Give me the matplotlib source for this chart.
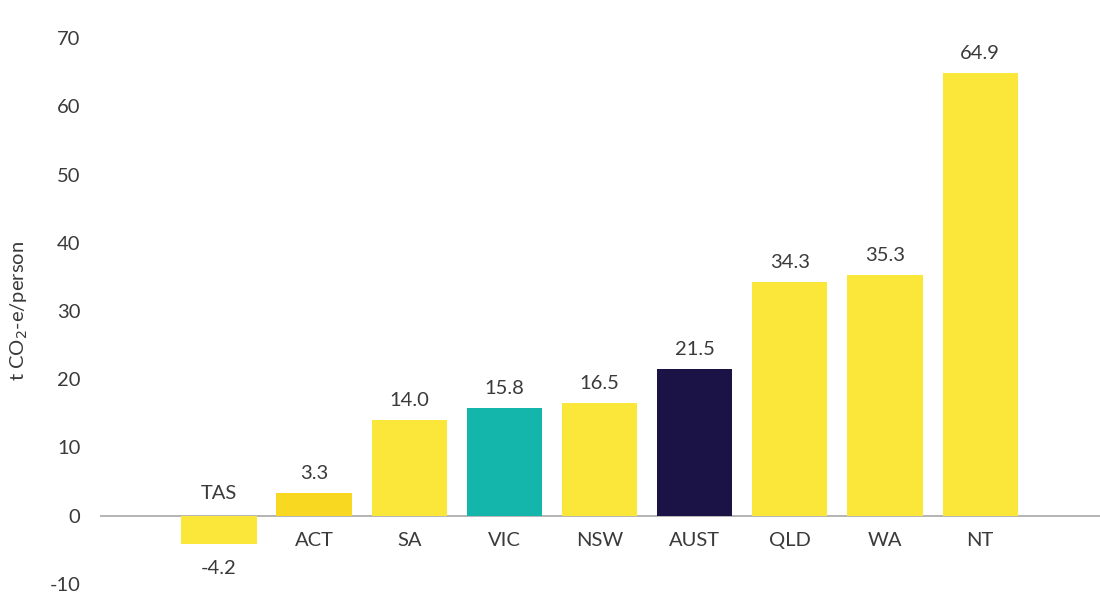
import matplotlib.pyplot as plt

# emissions per person by state/territory
states = ['TAS', 'ACT', 'SA', 'VIC', 'NSW', 'AUST', 'QLD', 'WA', 'NT']
values = [-4.2, 3.3, 14.0, 15.8, 16.5, 21.5, 34.3, 35.3, 64.9]
colours = ['#FAE73A', '#F8D820', '#FAE73A', '#14B6AC', '#FAE73A',
           '#1B1246', '#FAE73A', '#FAE73A', '#FAE73A']
yticks = [-10, 0, 10, 20, 30, 40, 50, 60, 70]

plt.rcParams['font.family'] = ['Lato', 'DejaVu Sans']
plt.rcParams['axes.unicode_minus'] = False
text_col = '#3a3a3a'

fig = plt.figure(figsize=(11, 6.12), dpi=100)
ax = fig.add_axes([100 / 1100, 28 / 612, 1000 / 1100, 546 / 612])

x = list(range(len(states)))
ax.bar(x, values, width=0.79, color=colours, zorder=2)
ax.axhline(0, color='#a8a8a8', lw=1.2, zorder=1)

for xi, name, v in zip(x, states, values):
    if v >= 0:
        ax.annotate(f'{v:.1f}', (xi, v), xytext=(0, 8), textcoords='offset points',
                    ha='center', va='bottom', fontsize=14.5, color=text_col)
        ax.annotate(name, (xi, 0), xytext=(0, -12), textcoords='offset points',
                    ha='center', va='top', fontsize=14.5, color=text_col)
    else:
        ax.annotate(f'{v:.1f}', (xi, v), xytext=(0, -11), textcoords='offset points',
                    ha='center', va='top', fontsize=14.5, color=text_col)
        ax.annotate(name, (xi, 0), xytext=(0, 10), textcoords='offset points',
                    ha='center', va='bottom', fontsize=14.5, color=text_col)

ax.set_xlim(-1.25, 9.26)
ax.set_ylim(-10, 70)
ax.set_yticks(yticks)
ax.set_xticks([])
ax.tick_params(axis='y', length=0, pad=14, labelsize=14.5, labelcolor=text_col)
for s in ax.spines.values():
    s.set_visible(False)
ax.set_ylabel('t CO$_2$-e/person', fontsize=14.5, color=text_col, labelpad=14)

fig.savefig('out.png', dpi=100)
